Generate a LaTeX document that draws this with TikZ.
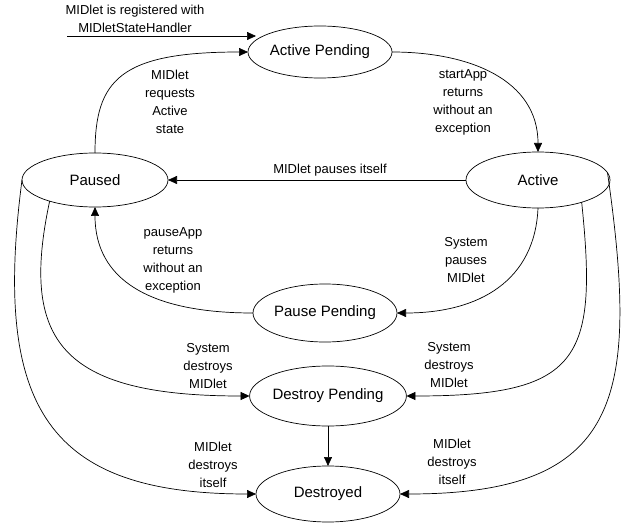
\documentclass[tikz,border=0pt]{standalone}
\usepackage{fontspec}
\setmainfont{Liberation Sans}
\usetikzlibrary{shapes.geometric,arrows.meta,calc}
\begin{document}
\begin{tikzpicture}[x=1pt,y=-1pt,
  state/.style={ellipse,draw,line width=0.7pt,inner sep=0pt,outer sep=0pt,minimum width=144pt,font=\fontsize{15}{18}\selectfont},
  lbl/.style={align=center,font=\fontsize{13}{18}\selectfont,inner sep=0pt},
  conn/.style={draw,line width=0.7pt,-{Triangle[length=9pt,width=8pt]}}]
\useasboundingbox (0,0) rectangle (638,524);
\fill[white] (0,0) rectangle (638,524);

\node[state,minimum height=52pt] (ap) at (320,52) {Active Pending};
\node[state,minimum width=146pt,minimum height=54pt] (paused) at (95,180) {Paused};
\node[state,minimum height=56pt] (active) at (538,180) {Active};
\node[state,minimum height=58pt] (pp) at (325,313) {Pause Pending};
\node[state,minimum height=60pt] (dp) at (328,396) {Destroy Pending};
\node[state,minimum height=56pt] (dd) at (328,494) {Destroyed};

\coordinate (reg) at (67,36);

\draw[conn] (reg) -- ($(ap.west)+(8,-16)$);
\draw[conn] (paused.north) .. controls (95,80) and (120,52) .. (ap.west);
\draw[conn] (ap.east) .. controls (470,52) and (538,80) .. (active.north);
\draw[conn] (active.west) -- (paused.east);
\draw[conn] (active.south) .. controls (535,280) and (480,313) .. (pp.east);
\draw[conn] (pp.west) .. controls (150,313) and (95,280) .. (paused.south);
\draw[conn] (active.333) .. controls (598,360) and (580,396) .. (dp.east);
\draw[conn] (active.6) .. controls (640,400) and (620,494) .. (dd.east);
\draw[conn] (paused.205) .. controls (20,340) and (60,396) .. (dp.west);
\draw[conn] (paused.west) .. controls (-8,410) and (50,494) .. (dd.west);
\draw[conn] (dp.south) -- (dd.north);

\node[lbl] (lreg) at (135,19) {MIDlet is registered with\\MIDletStateHandler};
\node[lbl] (lreq) at (170,102) {MIDlet\\requests\\Active\\state};
\node[lbl] (lstart) at (463,102) {startApp\\returns\\without an\\exception};
\node[lbl] (lpself) at (330,170) {MIDlet pauses itself};
\node[lbl] (lpapp) at (173,260) {pauseApp\\returns\\without an\\exception};
\node[lbl] (lspause) at (466,260) {System\\pauses\\MIDlet};
\node[lbl] (lsdl) at (208,366) {System\\destroys\\MIDlet};
\node[lbl] (lsdr) at (449,365) {System\\destroys\\MIDlet};
\node[lbl] (lmdl) at (213,465) {MIDlet\\destroys\\itself};
\node[lbl] (lmdr) at (452,462) {MIDlet\\destroys\\itself};
\end{tikzpicture}
\end{document}
